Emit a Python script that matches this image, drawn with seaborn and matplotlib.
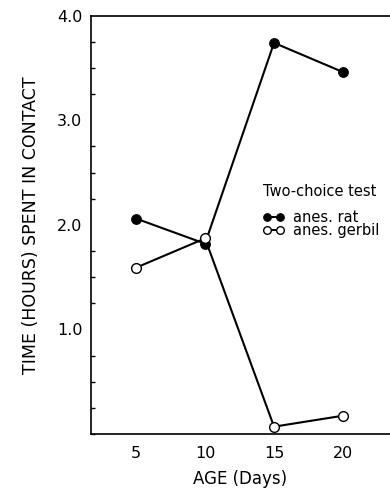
import matplotlib
matplotlib.use("Agg")
import matplotlib.pyplot as plt
import seaborn as sns
import pandas as pd
from matplotlib.ticker import MultipleLocator

ages = [5, 10, 15, 20]
rat = [2.06, 1.82, 3.74, 3.46]
gerbil = [1.59, 1.87, 0.07, 0.175]
ytick_vals = [1.0, 2.0, 3.0, 4.0]
ytick_labels = ["1.0", "2.0", "3.0", "4.0"]
xtick_labels = ["5", "10", "15", "20"]

sns.set_theme(style="white")
plt.rcParams['font.family'] = ['DejaVu Sans']

df = pd.DataFrame({
    "age": ages * 2,
    "time": rat + gerbil,
    "series": ["anes. rat"] * 4 + ["anes. gerbil"] * 4,
})

fig = plt.figure(figsize=(3.9, 4.92), dpi=100)
ax = fig.add_axes([0.2326, 0.1179, 0.7674, 0.8503])

sns.lineplot(data=df[df.series == "anes. rat"], x="age", y="time", ax=ax,
             color="black", lw=1.5, marker="o", markersize=7,
             markerfacecolor="black", markeredgecolor="black",
             label="anes. rat", zorder=3)
sns.lineplot(data=df[df.series == "anes. gerbil"], x="age", y="time", ax=ax,
             color="black", lw=1.5, marker="o", markersize=7,
             markerfacecolor="white", markeredgecolor="black", markeredgewidth=1.0,
             label="anes. gerbil", zorder=4)

ax.set_xlim(1.72, 23.4)
ax.set_ylim(0, 4.0)
ax.set_xticks(ages)
ax.set_xticklabels(xtick_labels)
ax.set_yticks(ytick_vals)
ax.set_yticklabels(ytick_labels)
ax.yaxis.set_minor_locator(MultipleLocator(0.25))

for s in ["left", "bottom", "top"]:
    ax.spines[s].set_visible(True)
    ax.spines[s].set_color("black")
    ax.spines[s].set_linewidth(1.2)
ax.spines["right"].set_visible(False)

ax.tick_params(axis="both", which="major", direction="in", length=5, width=1,
               color="black", labelsize=11.5, labelcolor="black")
ax.tick_params(axis="y", which="major", pad=6)
ax.tick_params(axis="y", which="minor", direction="in", length=3, width=1,
               color="black", left=True)
ax.tick_params(axis="x", which="major", pad=9)

ax.set_xlabel("AGE (Days)", fontsize=12, color="black", labelpad=6)
ax.set_ylabel("TIME (HOURS) SPENT IN CONTACT", fontsize=12.5, color="black", labelpad=12)

ax.text(0.576, 0.5785, "Two-choice test", transform=ax.transAxes,
        ha="left", va="center", fontsize=10.5, color="black")
leg = ax.legend(loc="center left", bbox_to_anchor=(0.574, 0.502),
                frameon=False, numpoints=2, handlelength=1.47,
                handletextpad=0.6, fontsize=10.5, labelspacing=-0.1,
                borderpad=0, borderaxespad=0)
for h in leg.legend_handles:
    h.set_markersize(5.5)
for t in leg.get_texts():
    t.set_color("black")

fig.savefig("out.png", dpi=100)
